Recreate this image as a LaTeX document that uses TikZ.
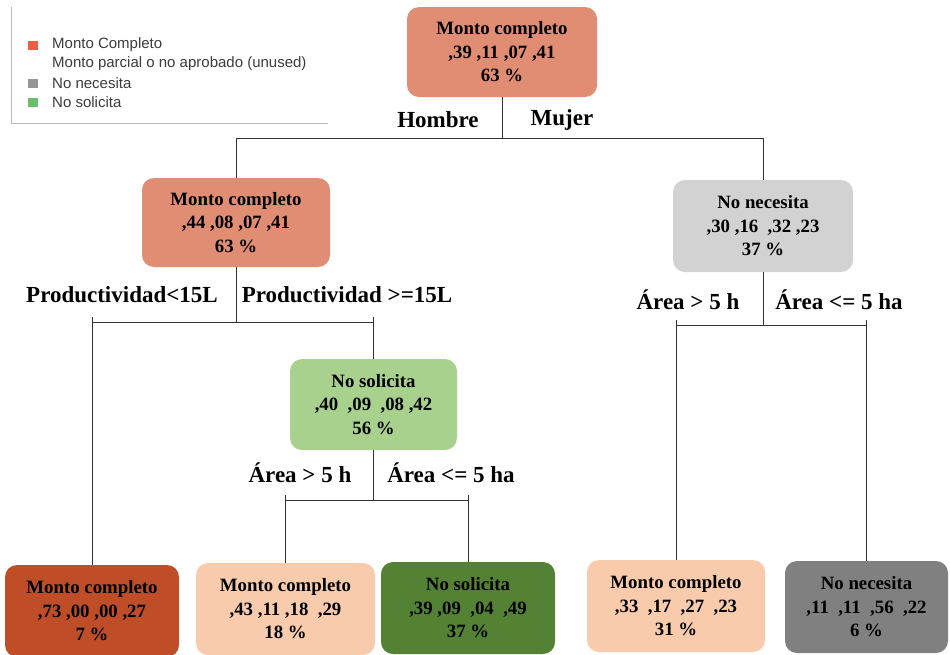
\documentclass[tikz,border=0pt]{standalone}
\usepackage{fontspec}
\setmainfont{Liberation Serif}
\newfontfamily\legendfont{Liberation Sans}
\definecolor{salmon}{RGB}{224,141,116}
\definecolor{lightgr}{RGB}{210,210,210}
\definecolor{lightgreen}{RGB}{169,209,142}
\definecolor{darkorange}{RGB}{191,78,40}
\definecolor{peach}{RGB}{248,203,173}
\definecolor{darkgreen}{RGB}{84,130,53}
\definecolor{midgray}{RGB}{128,128,128}
\definecolor{legred}{RGB}{242,92,66}
\definecolor{leggray}{RGB}{150,150,150}
\definecolor{leggreen}{RGB}{108,190,108}
\definecolor{legtext}{RGB}{60,60,60}
\definecolor{linecol}{RGB}{50,50,50}
\begin{document}
\begin{tikzpicture}[x=1pt,y=-1pt,
  box/.style={rectangle, rounded corners=12pt, align=center, inner sep=0pt,
    font=\fontsize{18.8}{23.5}\selectfont\bfseries},
  lbl/.style={inner sep=0pt, font=\fontsize{23}{26}\selectfont\bfseries},
  conn/.style={draw=linecol, line width=1pt},
  legsq/.style={rectangle, inner sep=0pt, minimum width=10pt, minimum height=9pt},
  legtxt/.style={anchor=west, inner sep=0pt, text=legtext, font=\legendfont\fontsize{15}{17}\selectfont}]
\useasboundingbox (0,0) rectangle (950,654);
\clip (0,0) rectangle (950,654);
\fill[white] (0,0) rectangle (950,654);

% legend
\draw[draw=gray!55, line width=1pt] (11,7) -- (11,123) -- (328,123);
\node[legsq, fill=legred] (s1) at (33,45) {};
\node[legtxt] (t1) at (52,45) {Monto Completo};
\node[legtxt] (t2) at (52,64) {Monto parcial o no aprobado (unused)};
\node[legsq, fill=leggray] (s3) at (33,83) {};
\node[legtxt] (t3) at (52,83) {No necesita};
\node[legsq, fill=leggreen] (s4) at (33,102) {};
\node[legtxt] (t4) at (52,102) {No solicita};

% nodes
\node[box, fill=salmon, minimum width=190pt, minimum height=90pt] (root) at (502,52)
  {Monto completo\\,39 ,11 ,07 ,41\\63 \%};
\node[box, fill=salmon, minimum width=188pt, minimum height=89pt] (L) at (236,222.5)
  {Monto completo\\,44 ,08 ,07 ,41\\63 \%};
\node[box, fill=lightgr, minimum width=180pt, minimum height=92pt] (R) at (763,226)
  {No necesita\\,30 ,16~ ,32 ,23\\37 \%};
\node[box, fill=lightgreen, minimum width=167pt, minimum height=91pt] (M) at (373.5,404.5)
  {No solicita\\,40~ ,09~ ,08 ,42\\56 \%};
\node[box, fill=darkorange, minimum width=174pt, minimum height=92pt] (leaf1) at (92,611)
  {Monto completo\\,73 ,00 ,00 ,27\\7 \%};
\node[box, fill=peach, minimum width=179pt, minimum height=92pt] (leaf2) at (285.5,609)
  {Monto completo\\,43 ,11 ,18~ ,29\\18 \%};
\node[box, fill=darkgreen, minimum width=174pt, minimum height=92pt] (leaf3) at (468,608)
  {No solicita\\,39 ,09~ ,04~ ,49\\37 \%};
\node[box, fill=peach, minimum width=178pt, minimum height=92pt] (leaf4) at (676,606)
  {Monto completo\\,33~ ,17~ ,27~ ,23\\31 \%};
\node[box, fill=midgray, minimum width=163pt, minimum height=92pt] (leaf5) at (866.5,607)
  {No necesita\\,11~ ,11~ ,56~ ,22\\6 \%};

% split labels
\node[lbl] (h) at (438,120) {Hombre};
\node[lbl] (mj) at (562,120) {Mujer};
\node[lbl] (p1) at (122,295) {Productividad<15L};
\node[lbl] (p2) at (347,295) {Productividad >=15L};
\node[lbl] (a1) at (688,300) {Área > 5 h};
\node[lbl] (a2) at (839,300) {Área <= 5 ha};
\node[lbl] (a3) at (300,473) {Área > 5 h};
\node[lbl] (a4) at (451,473) {Área <= 5 ha};

% connectors
\coordinate (b0) at (0,138);
\coordinate (b1) at (0,322);
\coordinate (b2) at (0,325);
\coordinate (b3) at (0,500);
\draw[conn] (root.south) -- (root.south |- b0);
\draw[conn] (L.north |- b0) -- (R.north |- b0);
\draw[conn] (L.north |- b0) -- (L.north);
\draw[conn] (R.north |- b0) -- (R.north);

\draw[conn] (L.south) -- (L.south |- b1);
\draw[conn] (leaf1.north |- b1) -- (M.north |- b1);
\draw[conn] ([yshift=5pt]leaf1.north |- b1) -- (leaf1.north);
\draw[conn] ([yshift=5pt]M.north |- b1) -- (M.north);

\draw[conn] (R.south) -- (R.south |- b2);
\draw[conn] (leaf4.north |- b2) -- (leaf5.north |- b2);
\draw[conn] ([yshift=5pt]leaf4.north |- b2) -- (leaf4.north);
\draw[conn] ([yshift=5pt]leaf5.north |- b2) -- (leaf5.north);

\draw[conn] (M.south) -- (M.south |- b3);
\draw[conn] (leaf2.north |- b3) -- (leaf3.north |- b3);
\draw[conn] ([yshift=5pt]leaf2.north |- b3) -- (leaf2.north);
\draw[conn] ([yshift=5pt]leaf3.north |- b3) -- (leaf3.north);
\end{tikzpicture}
\end{document}
